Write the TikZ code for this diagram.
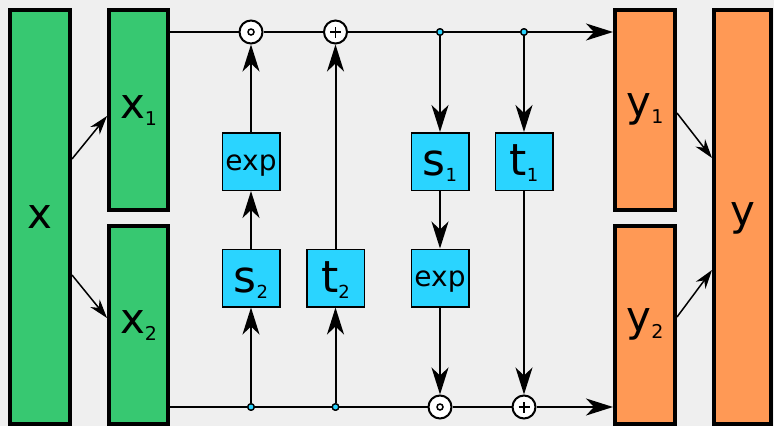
\documentclass[tikz,border=0pt]{standalone}
\usepackage{fontspec}
\setmainfont{DejaVu Sans}
\usetikzlibrary{arrows.meta}

\definecolor{bgcol}{HTML}{EFEFEF}
\definecolor{incol}{HTML}{37C871}
\definecolor{outcol}{HTML}{FF9955}
\definecolor{netcol}{HTML}{2AD4FF}

% big letter with a lowered index
\newcommand\varlbl[2]{{\fontsize{42}{42}\selectfont #1}\raisebox{-7pt}{\fontsize{19}{19}\selectfont #2}}
\newcommand\netlbl[2]{{\fontsize{44}{44}\selectfont #1}\raisebox{-6pt}{\fontsize{18}{18}\selectfont #2}}

\tikzset{
  varbox/.style={draw=black, line width=4pt, rectangle, inner sep=0pt, text depth=0pt},
  netbox/.style={draw=black, line width=1.5pt, fill=netcol, rectangle, inner sep=0pt,
                 minimum size=57.5pt, text depth=0pt},
  opnode/.style={draw=black, line width=2pt, fill=white, circle, inner sep=0pt, minimum size=23pt},
  tap/.style={draw=black, line width=1.3pt, fill=netcol, circle, inner sep=0pt, minimum size=6.5pt},
  wire/.style={line width=2pt},
  flow/.style={line width=2pt, -{Stealth[length=27pt, width=17pt, inset=8pt]}},
  split/.style={line width=1.5pt, -{Stealth[length=19pt, width=12pt, inset=6pt]}},
}

\begin{document}
\begin{tikzpicture}[x=1pt, y=-1pt]
\useasboundingbox (0,0) rectangle (774,426);
\fill[bgcol] (0,0) rectangle (774,426);

% input and output blocks
\node[varbox, fill=incol, minimum width=60pt, minimum height=414pt, text height=22pt] (x) at (40,217) {{\fontsize{42}{42}\selectfont x}};
\node[varbox, fill=incol, minimum width=59pt, minimum height=200pt, text height=16pt] (x1) at (138.5,110) {\varlbl{x}{1}};
\node[varbox, fill=incol, minimum width=59pt, minimum height=198pt, text height=16pt] (x2) at (138.5,325) {\varlbl{x}{2}};
\node[varbox, fill=outcol, minimum width=60pt, minimum height=200pt, text height=12pt] (y1) at (645,110) {\varlbl{y}{1}};
\node[varbox, fill=outcol, minimum width=60pt, minimum height=198pt, text height=12pt] (y2) at (645,325) {\varlbl{y}{2}};
\node[varbox, fill=outcol, minimum width=57pt, minimum height=414pt, text height=16pt] (y) at (742.5,217) {{\fontsize{42}{42}\selectfont y}};

% coupling networks
\node[netbox, text height=17pt] (eA) at (251,161.5) {{\fontsize{28}{28}\selectfont exp}};
\node[netbox, text height=28pt] (s2) at (251,278) {\netlbl{s}{2}};
\node[netbox, text height=28pt] (t2) at (335.5,278) {\netlbl{t}{2}};
\node[netbox, text height=27pt] (s1) at (440,161.5) {\netlbl{s}{1}};
\node[netbox, text height=27pt] (t1) at (524,161.5) {\netlbl{t}{1}};
\node[netbox, text height=17pt] (eB) at (440,278) {{\fontsize{28}{28}\selectfont exp}};

% element-wise operations
\node[opnode] (mT) at (251,32) {};
\node[opnode] (aT) at (335.5,32) {};
\node[opnode] (mB) at (440,407) {};
\node[opnode] (aB) at (524,407) {};
\draw[line width=1.5pt] (mT) circle[radius=3pt];
\draw[line width=1.5pt] (mB) circle[radius=3pt];
\draw[line width=1.4pt] ([xshift=-5.5pt]aT.center) -- ([xshift=5.5pt]aT.center)
                        ([yshift=-5.5pt]aT.center) -- ([yshift=5.5pt]aT.center);
\draw[line width=1.4pt] ([xshift=-5.5pt]aB.center) -- ([xshift=5.5pt]aB.center)
                        ([yshift=-5.5pt]aB.center) -- ([yshift=5.5pt]aB.center);

% branch points
\node[tap] (dA) at (440,32) {};
\node[tap] (dB) at (524,32) {};
\node[tap] (dC) at (251,407) {};
\node[tap] (dD) at (335.5,407) {};

% splitting and merging
\draw[split] ([yshift=58pt]x.east) -- ([yshift=-6pt]x1.west);
\draw[split] ([yshift=-58pt]x.east) -- ([yshift=7pt]x2.west);
\draw[split] ([yshift=-3pt]y1.east) -- ([yshift=59pt]y.west);
\draw[split] ([yshift=8pt]y2.east) -- ([yshift=-53pt]y.west);

% upper track
\draw[wire] (x1.east |- mT) -- (mT);
\draw[wire] (mT) -- (aT);
\draw[wire] (aT) -- (dA);
\draw[wire] (dA) -- (dB);
\draw[flow] (dB) -- (y1.west |- dB);

% lower track
\draw[wire] (x2.east |- dC) -- (dC);
\draw[wire] (dC) -- (dD);
\draw[wire] (dD) -- (mB);
\draw[wire] (mB) -- (aB);
\draw[flow] (aB) -- (y2.west |- aB);

% scale and shift applied to the upper half
\draw[flow] (dC) -- (s2);
\draw[flow] (s2) -- (eA);
\draw[flow] (eA) -- (mT);
\draw[flow] (dD) -- (t2);
\draw[flow] (t2) -- (aT);

% scale and shift applied to the lower half
\draw[flow] (dA) -- (s1);
\draw[flow] (s1) -- (eB);
\draw[flow] (eB) -- (mB);
\draw[flow] (dB) -- (t1);
\draw[flow] (t1) -- (aB);

% keep the branch points above their wires
\node[tap] at (dA) {};
\node[tap] at (dB) {};
\node[tap] at (dC) {};
\node[tap] at (dD) {};
\end{tikzpicture}
\end{document}
